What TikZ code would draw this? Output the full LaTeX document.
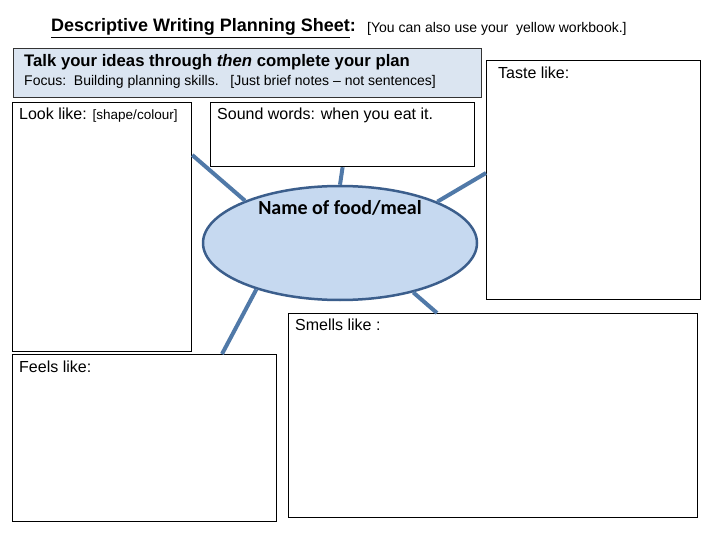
\documentclass[tikz,border=0pt]{standalone}
\usepackage{fontspec}
\setmainfont{Liberation Sans}
\newfontfamily\calibri{Carlito}
\usetikzlibrary{shapes.geometric,calc}
\definecolor{linkblue}{HTML}{5079A8}
\definecolor{ellfill}{HTML}{C6D9F0}
\definecolor{elldraw}{HTML}{3B5E8C}
\definecolor{bandfill}{HTML}{DBE5F1}
\tikzset{
  box/.style={draw=black, line width=1.2pt, fill=white, rectangle, inner sep=0pt, anchor=north west},
  lbl/.style={anchor=west, inner sep=0pt, font=\fontsize{16}{18}\selectfont},
  link/.style={draw=linkblue, line width=4pt},
}
\begin{document}
\begin{tikzpicture}[x=1pt,y=-1pt]
\useasboundingbox (0,0) rectangle (720,540);
\fill[white] (0,0) rectangle (720,540);
% title
\node[anchor=west, inner sep=0pt, font=\fontsize{18}{20}\selectfont\bfseries] (title) at (51,28) {\underline{Descriptive Writing Planning Sheet}:};
\node[anchor=west, inner sep=0pt, font=\fontsize{14}{16}\selectfont] (sub) at (367,29) {[You can also use your\ \ yellow workbook.]};
% band
\node[box, fill=bandfill, draw=black!80, line width=1.4pt, minimum width=468, minimum height=49] (band) at (13,48) {};
\node[anchor=west, inner sep=0pt, font=\fontsize{16.7}{18}\selectfont\bfseries] (talk) at (24,62) {Talk your ideas through \textit{then} complete your plan};
\node[anchor=west, inner sep=0pt, font=\fontsize{14}{16}\selectfont] (focus) at (24,82) {Focus:\ \ Building planning skills.\ \ \ [Just brief notes -- not sentences]};
% boxes
\node[box, minimum width=214, minimum height=239] (taste) at (486,60) {};
\node[box, minimum width=179, minimum height=249] (look) at (12,102) {};
\node[box, minimum width=264, minimum height=64] (sound) at (210,102) {};
\node[box, minimum width=409, minimum height=204] (smells) at (288,313) {};
\node[box, minimum width=264, minimum height=167] (feels) at (12,354) {};
% labels
\node[lbl] (tastet) at (498,73) {Taste like:};
\node[lbl] (lookt) at (19,115) {Look like: {\fontsize{13.5}{15}\selectfont[shape/colour]}};
\node[lbl] (soundt) at (217,115) {Sound words: when you eat it.};
\node[lbl] (smellst) at (295,325) {Smells like :};
\node[lbl] (feelst) at (19,367) {Feels like:};
% centre ellipse
\node[ellipse, draw=elldraw, line width=2.5pt, fill=ellfill, minimum width=274, minimum height=114, inner sep=0pt] (food) at (340,243) {};
\node[inner sep=0pt, font=\calibri\fontsize{20}{22}\selectfont\bfseries] (foodt) at (340,208) {Name of food/meal};
% connectors
\draw[link] ($(look.north east)+(0,53)$) -- (food.156);
\draw[link] (sound.south) -- (food.90);
\draw[link] ($(taste.north west)+(0,113)$) -- (food.23);
\draw[link] (food.-34) -- ($(smells.north west)+(149,0)$);
\draw[link] (food.209) -- ($(feels.north west)+(210,0)$);
\end{tikzpicture}
\end{document}
